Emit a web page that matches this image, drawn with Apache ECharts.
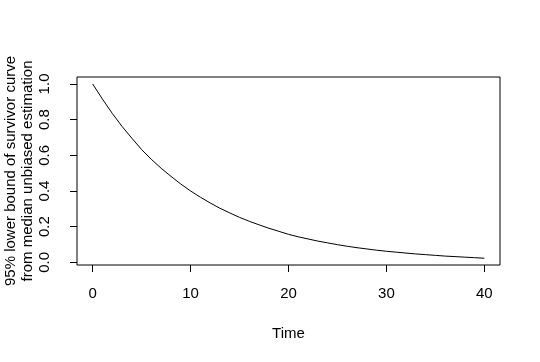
<!DOCTYPE html>
<html>
<head>
<meta charset="utf-8">
<script src="https://cdn.jsdelivr.net/npm/echarts@6/dist/echarts.min.js"></script>
<style>
html,body{margin:0;padding:0;background:#fff;}
#chart{width:540px;height:362px;}
</style>
</head>
<body>
<div id="chart"></div>
<script>
var times = [0,1,2,3,4,5,6,7,8,9,10,11,12,13,14,15,16,17,18,19,20,21,22,23,24,25,26,27,28,29,30,31,32,33,34,35,36,37,38,39,40];
var survival = [1.000,0.915,0.835,0.762,0.696,0.632,0.577,0.527,0.482,0.439,0.400,0.365,0.333,0.303,0.277,0.252,0.230,0.210,0.191,0.174,0.157,0.143,0.131,0.119,0.109,0.099,0.090,0.082,0.075,0.068,0.062,0.057,0.052,0.047,0.043,0.039,0.035,0.032,0.029,0.026,0.023];
var xTicks = [0,10,20,30,40];
var yTicks = [0,0.2,0.4,0.6,0.8,1.0];
var xTitle = 'Time';
var yTitle = '95% lower bound of survivor curve\nfrom median unbiased estimation';

var font = 'Liberation Sans, Arial, sans-serif';
var chart = echarts.init(document.getElementById('chart'), null, {renderer:'canvas'});
var pts = times.map(function(t,i){return [t, survival[i]];});
chart.setOption({
  animation:false,
  backgroundColor:'#fff',
  grid:{left:77, right:40, top:77, bottom:97, show:true, borderColor:'#000', borderWidth:1, backgroundColor:'transparent',
    containLabel:false, outerBoundsMode:'none'},
  xAxis:{
    type:'value', min:-1.6, max:41.6,
    axisLine:{show:false, onZero:false},
    splitLine:{show:false},
    axisTick:{show:true, length:7, customValues:xTicks, lineStyle:{color:'#000', width:1}},
    axisLabel:{customValues:xTicks, margin:21, color:'#000', fontFamily:font, fontSize:15, showMinLabel:true, showMaxLabel:true},
    name:xTitle, nameLocation:'middle', nameGap:61, nameMoveOverlap:false,
    nameTextStyle:{color:'#000', fontFamily:font, fontSize:15}
  },
  yAxis:{
    type:'value', min:-0.015, max:1.039,
    axisLine:{show:false, onZero:false},
    splitLine:{show:false},
    axisTick:{show:true, length:7, customValues:yTicks, lineStyle:{color:'#000', width:1}},
    axisLabel:{customValues:yTicks, rotate:90, margin:25, color:'#000', fontFamily:font, fontSize:15,
      formatter:function(v){return v.toFixed(1);}, showMinLabel:true, showMaxLabel:true},
    name:yTitle, nameLocation:'middle', nameGap:41, nameRotate:90, nameMoveOverlap:false,
    nameTextStyle:{color:'#000', fontFamily:font, fontSize:15, lineHeight:17, align:'center'}
  },
  series:[{
    type:'line', data:pts, showSymbol:false, smooth:false,
    lineStyle:{color:'#000', width:1}
  }]
});
</script>
</body>
</html>
